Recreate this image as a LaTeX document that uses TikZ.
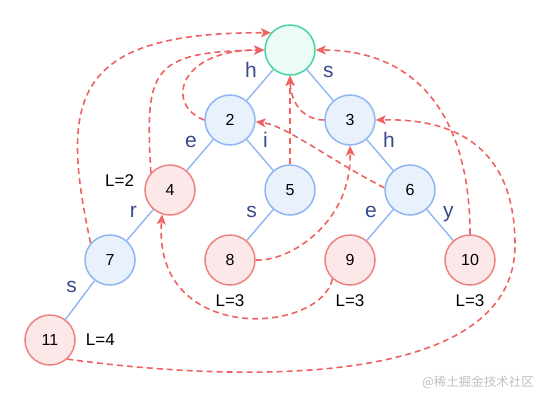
\documentclass[tikz,border=0pt]{standalone}
\usepackage{fontspec}
\setmainfont{Liberation Sans}
\newfontfamily\cjkfont{Noto Sans CJK SC}
\usepackage{tikz}
\usetikzlibrary{arrows.meta,positioning}
\usepackage{xcolor}
\definecolor{rootline}{RGB}{72,212,162}
\definecolor{rootfill}{RGB}{236,251,245}
\definecolor{trieline}{RGB}{143,181,243}
\definecolor{triefill}{RGB}{232,241,252}
\definecolor{endline}{RGB}{236,130,130}
\definecolor{endfill}{RGB}{252,232,232}
\definecolor{failcol}{RGB}{238,98,98}
\definecolor{lblcol}{RGB}{58,74,140}
\definecolor{markgrey}{RGB}{192,192,192}
\tikzset{
  trienode/.style={circle,draw=trieline,fill=triefill,line width=1.5pt,
                   minimum size=50pt,inner sep=0pt,font=\fontsize{16}{18}\selectfont},
  rootnode/.style={trienode,draw=rootline,fill=rootfill},
  endnode/.style={trienode,draw=endline,fill=endfill},
  trie/.style={draw=trieline,line width=1.4pt},
  fail/.style={-{Stealth[length=10pt,width=9pt,inset=2.5pt]},draw=failcol,
               line width=1.6pt,dash pattern=on 6pt off 4pt},
  edgelbl/.style={inner sep=0pt,text=lblcol,font=\fontsize{21}{24}\selectfont},
  lblleft/.style={edgelbl,anchor=base east,xshift=-2.5pt,yshift=7.5pt},
  lblright/.style={edgelbl,anchor=base west,xshift=2.5pt,yshift=7.5pt},
  lenlbl/.style={inner sep=0pt,font=\fontsize{17}{20}\selectfont},
  wmark/.style={inner sep=0pt,text=markgrey,font=\cjkfont\fontsize{12.5}{14}\selectfont},
}

\begin{document}
\begin{tikzpicture}[x=1pt,y=-1pt]
  \useasboundingbox (0,0) rectangle (540,400);
  % trie nodes
  \node[rootnode] (n0) at (290,50) {};
  \node[trienode] (n2) at (230,120) {2};
  \node[trienode] (n3) at (350,120) {3};
  \node[endnode] (n4) at (170,190) {4};
  \node[trienode] (n5) at (290,190) {5};
  \node[trienode] (n6) at (410,190) {6};
  \node[trienode] (n7) at (110,260) {7};
  \node[endnode] (n8) at (230,260) {8};
  \node[endnode] (n9) at (350,260) {9};
  \node[endnode] (n10) at (470,260) {10};
  \node[endnode] (n11) at (50,340) {11};
  % word lengths
  \node[lenlbl,left=10pt of n4,yshift=9pt] (l4) {L=2};
  \node[lenlbl,below=9pt of n8] (l8) {L=3};
  \node[lenlbl,below=9pt of n9] (l9) {L=3};
  \node[lenlbl,below=9pt of n10] (l10) {L=3};
  \node[lenlbl,right=10pt of n11] (l11) {L=4};
  % trie edges
  \draw[trie] (n0) -- node[lblleft] {h} (n2);
  \draw[trie] (n0) -- node[lblright] {s} (n3);
  \draw[trie] (n2) -- node[lblleft] {e} (n4);
  \draw[trie] (n2) -- node[lblright] {i} (n5);
  \draw[trie] (n3) -- node[lblright] {h} (n6);
  \draw[trie] (n4) -- node[lblleft] {r} (n7);
  \draw[trie] (n5) -- node[lblleft] {s} (n8);
  \draw[trie] (n6) -- node[lblleft] {e} (n9);
  \draw[trie] (n6) -- node[lblright] {y} (n10);
  \draw[trie] (n7) -- node[lblleft] {s} (n11);
  % fail links
  \coordinate (jturn) at (515,245);
  \draw[fail] (n7.139) .. controls (60,100) and (70,32) .. (n0.138);
  \draw[fail] (n4.138) .. controls (145,70) and (150,52) .. (n0.180);
  \draw[fail] (n2.180) .. controls (165,105) and (178,50) .. (n0.180);
  \draw[fail] (n5.north) -- (n0.south);
  \draw[fail] (n3.west) .. controls (305,120) and (291,105) .. (n0.south);
  \draw[fail] (n6.175) .. controls (330,160) and (285,125) .. (n2.-4);
  \draw[fail] (n8.east) .. controls (290,262) and (352,222) .. (n3.south);
  \draw[fail] (n9.-133) .. controls (320,335) and (152,345) .. (n4.-108);
  \draw[fail] (n10.north) .. controls (470,120) and (420,50) .. (n0.east);
  \draw[fail] (n11.-48) .. controls (220,380) and (515,395) .. (jturn)
    .. controls (515,160) and (470,118) .. (n3.east);
  \node[wmark] (wm) at (478,382) {@稀土掘金技术社区};
\end{tikzpicture}
\end{document}
